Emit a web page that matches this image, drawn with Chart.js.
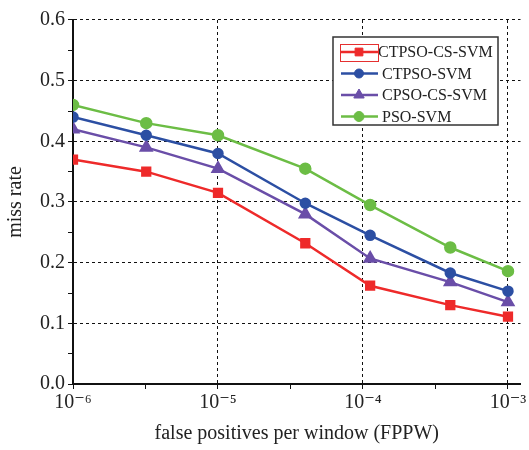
<!DOCTYPE html>
<html>
<head>
<meta charset="utf-8">
<script src="https://cdn.jsdelivr.net/npm/chart.js@4/dist/chart.umd.min.js"></script>
<style>
  html, body { margin: 0; padding: 0; background: #fff; }
  #wrap { width: 529px; height: 450px; }
</style>
</head>
<body>
<div id="wrap"><canvas id="miss" width="529" height="450"></canvas></div>
<script>
// false positives per window (log axis)
var fppw = [1e-6, 3.2e-6, 1e-5, 4e-5, 1.12e-4, 4e-4, 1e-3];
var ctpsoCsSvm = [0.37, 0.35, 0.315, 0.232, 0.162, 0.13, 0.111];
var ctpsoSvm   = [0.44, 0.41, 0.38, 0.298, 0.245, 0.183, 0.153];
var cpsoCsSvm  = [0.42, 0.39, 0.355, 0.28, 0.207, 0.168, 0.135];
var psoSvm     = [0.46, 0.43, 0.41, 0.355, 0.295, 0.225, 0.186];
var seriesNames = ["CTPSO-CS-SVM", "CTPSO-SVM", "CPSO-CS-SVM", "PSO-SVM"];
var xMajor = [1e-6, 1e-5, 1e-4, 1e-3];
var xMinor = [3.162e-6, 3.162e-5, 3.162e-4];
var xLabels = ["10\u207B\u2076", "10\u207B\u2075", "10\u207B\u2074", "10\u207B\u00B3"];

var serif = "'Liberation Serif', 'DejaVu Serif', serif";
var txt = "#222";

function pts(ys){
  return fppw.map(function(x, i){ return {x: x, y: ys[i]}; });
}
function ds(label, ys, color, shape, r){
  return {
    label: label, data: pts(ys),
    borderColor: color, backgroundColor: color,
    borderWidth: 2.5, pointStyle: shape, pointRadius: r,
    pointHoverRadius: r, tension: 0
  };
}

function isMajorX(v){
  return xMajor.some(function(m){ return Math.abs(Math.log10(v) - Math.log10(m)) < 0.01; });
}

// legend box drawn inside the plot
var boxLegend = {
  id: 'boxLegend',
  afterDraw: function(chart){
    var c = chart.ctx;
    var x0 = 333, y0 = 37, w = 165, h = 88;
    c.save();
    c.fillStyle = '#fff';
    c.fillRect(x0, y0, w, h);
    c.strokeStyle = '#333';
    c.lineWidth = 1.5;
    c.strokeRect(x0, y0, w, h);
    c.font = "16px " + serif;
    c.textBaseline = 'middle';
    chart.data.datasets.forEach(function(d, i){
      var y = 52 + i * 21.5;
      c.strokeStyle = d.borderColor;
      c.lineWidth = 2.5;
      c.beginPath(); c.moveTo(341, y); c.lineTo(378, y); c.stroke();
      c.fillStyle = d.borderColor;
      c.lineWidth = 1;
      Chart.helpers.drawPoint(c, {pointStyle: d.pointStyle, radius: d.pointRadius, borderWidth: 1}, 359, y);
      c.fillStyle = txt;
      c.fillText(d.label, i == 0 ? 378 : 382, y + 1);
    });
    // selection outline around the first sample
    c.strokeStyle = '#e53030';
    c.lineWidth = 1;
    c.strokeRect(340.5, 44.5, 38, 17);
    c.restore();
  }
};

new Chart(document.getElementById('miss'), {
  type: 'line',
  data: {
    datasets: [
      ds(seriesNames[0], ctpsoCsSvm, '#ee2a2a', 'rect', 5.5),
      ds(seriesNames[1], ctpsoSvm, '#2c4fa3', 'circle', 4.5),
      ds(seriesNames[2], cpsoCsSvm, '#6a4ea8', 'triangle', 6),
      ds(seriesNames[3], psoSvm, '#6cbd45', 'circle', 5)
    ]
  },
  plugins: [boxLegend],
  options: {
    responsive: false,
    animation: false,
    layout: { padding: { top: 20, right: 0, left: 0, bottom: 0 } },
    plugins: { legend: { display: false }, tooltip: { enabled: false } },
    scales: {
      x: {
        type: 'logarithmic',
        min: 1e-6, max: 1.22e-3,
        afterBuildTicks: function(s){
          s.ticks = xMajor.concat(xMinor).sort(function(a, b){ return a - b; })
            .map(function(v){ return {value: v}; });
        },
        afterFit: function(s){ s.height = 66; },
        ticks: {
          autoSkip: false, maxRotation: 0, padding: 2,
          color: txt, font: { family: serif, size: 20 },
          callback: function(v){
            var k = xMajor.findIndex(function(m){ return Math.abs(Math.log10(v) - Math.log10(m)) < 0.01; });
            return k >= 0 ? xLabels[k] : '';
          }
        },
        grid: {
          color: function(c){ return c.tick && isMajorX(c.tick.value) ? '#111' : 'rgba(0,0,0,0)'; },
          tickColor: '#111', tickLength: 5, lineWidth: 1
        },
        border: { display: true, color: '#111', width: 2, dash: [3, 3] },
        title: { display: true, text: 'false positives per window (FPPW)', color: txt,
                 font: { family: serif, size: 20 }, padding: { top: 8 } }
      },
      y: {
        min: 0, max: 0.6,
        afterBuildTicks: function(s){
          var t = [];
          for (var i = 0; i <= 12; i++) t.push({value: i * 0.05});
          s.ticks = t;
        },
        afterFit: function(s){ s.width = 73; },
        ticks: {
          autoSkip: false, padding: 3, color: txt, font: { family: serif, size: 20 },
          callback: function(v){
            var k = Math.round(v / 0.05);
            return k % 2 == 0 ? (k * 0.05).toFixed(1) : '';
          }
        },
        grid: {
          color: function(c){
            if (!c.tick) return 'rgba(0,0,0,0)';
            var k = Math.round(c.tick.value / 0.05);
            return (k % 2 == 0 && k > 0) ? '#111' : 'rgba(0,0,0,0)';
          },
          tickColor: '#111', tickLength: 5, lineWidth: 1
        },
        border: { display: true, color: '#111', width: 2, dash: [3, 3] },
        title: { display: true, text: 'miss rate', color: txt,
                 font: { family: serif, size: 20 }, padding: { bottom: 4 } }
      }
    }
  }
});
</script>
</body>
</html>
